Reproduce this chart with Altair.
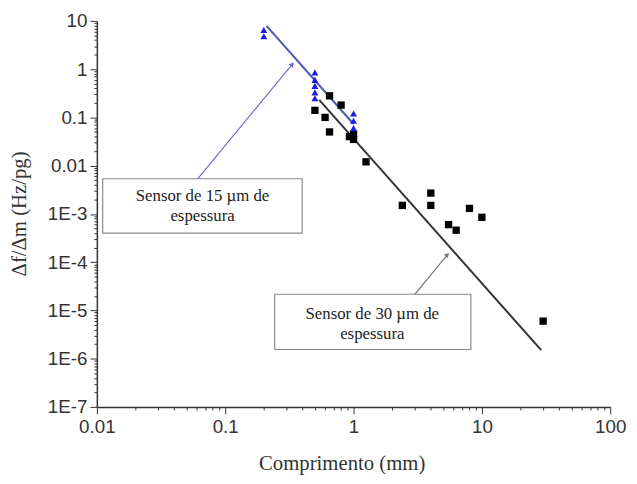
import altair as alt
import pandas as pd

# --- data ---
blue_x = [0.2, 0.2, 0.5, 0.5, 0.5, 0.5, 0.5, 1.0, 1.0, 1.0]
blue_y = [6.5, 4.8, 0.85, 0.6, 0.45, 0.33, 0.25, 0.12, 0.085, 0.06]

black_x = [0.5, 0.6, 0.65, 0.65, 0.8, 0.93, 1.0, 1.0, 1.25, 2.4, 4.0, 4.0, 5.5, 6.3, 8.0, 10.0, 30.0]
black_y = [0.14, 0.1, 0.05, 0.28, 0.18, 0.04, 0.035, 0.045, 0.012, 0.0015, 0.0027, 0.0015, 0.0006, 0.00046, 0.0013, 0.00085, 6e-6]

fit15_x = [0.21, 1.0]
fit15_y = [7.9, 0.073]
fit30_x = [0.54, 29.0]
fit30_y = [0.23, 1.5e-6]

# annotation boxes (data coordinates)
box_x = [0.0111, 0.243]
box_x2 = [0.398, 8.2]
box_y = [0.00535, 2.16e-5]
box_y2 = [0.0004, 1.55e-6]

text_x = [0.0666, 0.0666, 1.4, 1.4]
text_y = [0.0024, 0.00089, 8.5e-6, 3.2e-6]
text_s = ["Sensor de 15 µm de", "espessura", "Sensor de 30 µm de", "espessura"]

arrow_x = [0.061, 3.0]
arrow_y = [0.00535, 2.16e-5]
arrow_x2 = [0.333, 5.38]
arrow_y2 = [1.26, 1.42e-4]
arrow_col = ["#6a6ad0", "#777777"]

x_major = [0.01, 0.1, 1, 10, 100]
y_major = [1e-7, 1e-6, 1e-5, 1e-4, 1e-3, 0.01, 0.1, 1, 10]

x_ticks = [m * 10.0 ** e for e in range(-2, 2) for m in range(1, 10)] + [100]
y_ticks = [m * 10.0 ** e for e in range(-7, 1) for m in range(1, 10)] + [10]

MAJOR = "abs(log(datum.value)/LN10 - round(log(datum.value)/LN10)) < 0.001"
YLAB = ("abs(log(datum.value)/LN10 - round(log(datum.value)/LN10)) > 0.001 ? '' : "
        "(datum.value >= 0.01 ? format(datum.value, '') : '1E' + round(log(datum.value)/LN10))")
XLAB = ("abs(log(datum.value)/LN10 - round(log(datum.value)/LN10)) > 0.001 ? '' : "
        "format(datum.value, '')")

xs = alt.Scale(type="log", domain=[0.01, 100], nice=False)
ys = alt.Scale(type="log", domain=[1e-7, 10], nice=False)

axis_common = dict(
    grid=False, domainColor="#333333", tickColor="#333333", domainWidth=1.5,
    tickSize={"condition": {"test": MAJOR, "value": 7}, "value": 3},
    labelFont="Liberation Sans", labelFontSize=19, labelColor="#333333",
    titleFont="Liberation Serif", titleFontSize=21, titleFontWeight="normal",
    titleColor="#333333", labelOverlap=False, labelFlush=False,
)

xaxis = alt.Axis(values=x_ticks, labelExpr=XLAB, title="Comprimento (mm)",
                 labelPadding=4, titleX=248, titleY=57, titleAlign="center",
                 titleBaseline="middle", **axis_common)
yaxis = alt.Axis(values=y_ticks, labelExpr=YLAB, title="Δf/Δm (Hz/pg)",
                 labelPadding=3, titleX=-78, titleY=195, titleAngle=270,
                 titleAlign="center", titleBaseline="middle", **axis_common)

blue_df = pd.DataFrame({"x": blue_x, "y": blue_y})
black_df = pd.DataFrame({"x": black_x, "y": black_y})
f15 = pd.DataFrame({"x": fit15_x, "y": fit15_y})
f30 = pd.DataFrame({"x": fit30_x, "y": fit30_y})
boxes = pd.DataFrame({"x": box_x, "x2": box_x2, "y": box_y, "y2": box_y2})
texts = pd.DataFrame({"x": text_x, "y": text_y, "t": text_s})
arrows = pd.DataFrame({"x": arrow_x, "y": arrow_y, "x2": arrow_x2, "y2": arrow_y2, "c": arrow_col})

base_x = alt.X("x:Q", scale=xs, axis=xaxis)
base_y = alt.Y("y:Q", scale=ys, axis=yaxis)

line30 = alt.Chart(f30).mark_line(color="#333333", strokeWidth=2).encode(x=base_x, y=base_y)
line15 = alt.Chart(f15).mark_line(color="#4a58b0", strokeWidth=2).encode(x="x:Q", y="y:Q")
sq = alt.Chart(black_df).mark_square(color="#000000", size=55, opacity=1).encode(x="x:Q", y="y:Q")
tri = alt.Chart(blue_df).mark_point(shape="triangle-up", filled=True, color="#1c1ce6",
                                    size=50, opacity=1).encode(x="x:Q", y="y:Q")
rules = alt.Chart(arrows).mark_rule(strokeWidth=1.2).encode(
    x="x:Q", y="y:Q", x2="x2:Q", y2="y2:Q", color=alt.Color("c:N", scale=None))
heads = alt.Chart(arrows).mark_point(shape="triangle-up", filled=True, size=30,
                                     angle=40, opacity=1).encode(
    x="x2:Q", y="y2:Q", color=alt.Color("c:N", scale=None))
rects = alt.Chart(boxes).mark_rect(fill="white", stroke="#8a8a8a", strokeWidth=1.2).encode(
    x="x:Q", x2="x2:Q", y="y:Q", y2="y2:Q")
txt = alt.Chart(texts).mark_text(font="Liberation Serif", fontSize=17, color="#222222",
                                 align="center", baseline="middle").encode(
    x="x:Q", y="y:Q", text="t:N")

chart = alt.layer(line30, line15, sq, tri, rules, heads, rects, txt).properties(
    width=520, height=391,
    autosize=alt.AutoSizeParams(type="none"),
    padding={"left": 90, "top": 10, "right": 19, "bottom": 75},
).configure_view(stroke=None)

chart.save("out.html", embed_options={"renderer": "svg", "actions": False})
